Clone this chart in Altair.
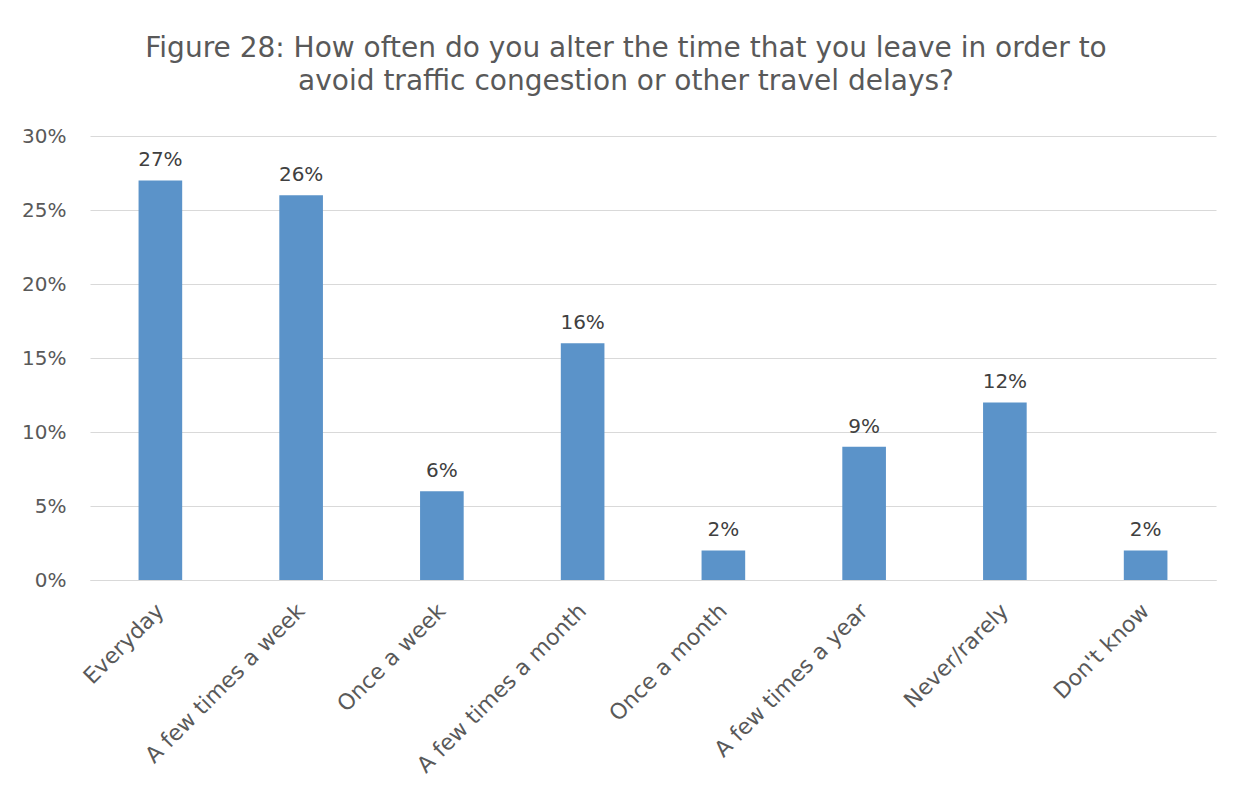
import altair as alt
import pandas as pd

categories = ["Everyday", "A few times a week", "Once a week", "A few times a month",
              "Once a month", "A few times a year", "Never/rarely", "Don't know"]
values = [0.27, 0.26, 0.06, 0.16, 0.02, 0.09, 0.12, 0.02]
labels = ["27%", "26%", "6%", "16%", "2%", "9%", "12%", "2%"]

df = pd.DataFrame({"cat": categories, "val": values, "lab": labels})

FONT = "DejaVu Sans"
GREY = "#595959"

x = alt.X("cat:N", sort=categories, title=None,
          scale=alt.Scale(paddingInner=0.69, paddingOuter=0.345),
          axis=alt.Axis(labelAngle=-45, labelAlign="right", labelBaseline="middle",
                        labelFontSize=22, labelColor=GREY, labelFont=FONT,
                        labelPadding=27, ticks=False, domain=True,
                        domainColor="#d9d9d9", labelLimit=400))
y = alt.Y("val:Q", title=None,
          scale=alt.Scale(domain=[0, 0.30]),
          axis=alt.Axis(format=".0%", values=[0, 0.05, 0.10, 0.15, 0.20, 0.25, 0.30],
                        labelFontSize=20, labelColor=GREY, labelFont=FONT,
                        labelPadding=24, ticks=False, domain=False,
                        gridColor="#d9d9d9", gridWidth=1))

bars = alt.Chart(df).mark_bar(color="#5B93C9").encode(x=x, y=y)
text = alt.Chart(df).mark_text(baseline="bottom", dy=-10, fontSize=20,
                               color="#404040", font=FONT).encode(
    x=alt.X("cat:N", sort=categories), y="val:Q", text="lab:N")

chart = (bars + text).properties(
    width=1126, height=444,
    autosize=alt.AutoSizeParams(type="none"),
    padding={"left": 82, "top": 128, "right": 25, "bottom": 217},
    title=alt.TitleParams(
        ["Figure 28: How often do you alter the time that you leave in order to",
         "avoid traffic congestion or other travel delays?"],
        font=FONT, fontSize=28, fontWeight="normal", color=GREY,
        anchor="middle", dx=-27, offset=30, lineHeight=33),
).configure_view(stroke=None)

chart.save("out.html", embed_options={"renderer": "svg", "actions": False})
